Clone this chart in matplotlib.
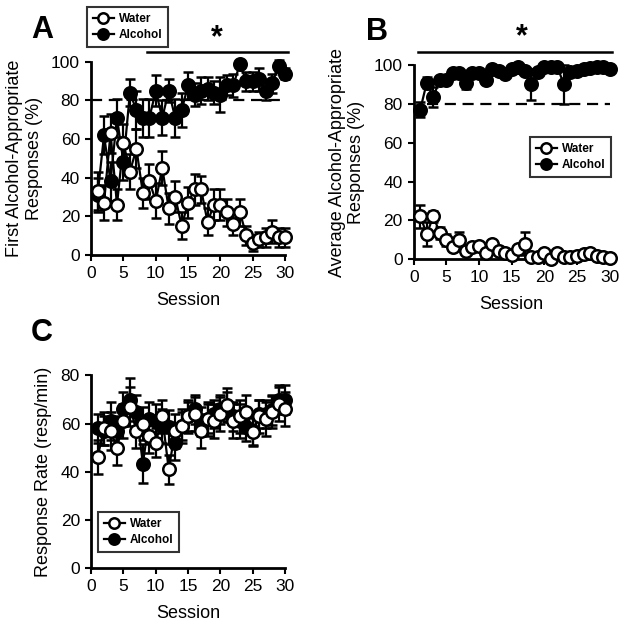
import matplotlib
matplotlib.use('Agg')
import matplotlib.pyplot as plt
import numpy as np
from matplotlib.lines import Line2D

plt.rcParams['font.family'] = ['Liberation Sans', 'DejaVu Sans']

sessions = np.arange(1, 31)

# Panel A: first alcohol-appropriate responses (%)
a_water = [33, 27, 63, 26, 58, 43, 55, 32, 38, 28, 45, 24, 30, 15, 27,
           34, 34, 17, 26, 26, 22, 16, 22, 10, 6, 8, 9, 12, 9, 9]
a_water_err = [10, 9, 10, 8, 10, 9, 10, 8, 9, 9, 9, 8, 8, 7, 8,
               8, 7, 7, 8, 8, 7, 6, 7, 5, 4, 4, 5, 6, 5, 5]
a_alc = [31, 62, 38, 71, 48, 84, 75, 71, 71, 85, 71, 85, 71, 75, 88,
         83, 85, 86, 84, 83, 88, 88, 99, 90, 90, 91, 85, 89, 98, 94]
a_alc_err = [9, 10, 10, 10, 9, 7, 10, 10, 10, 8, 9, 6, 10, 9, 7,
             6, 7, 6, 6, 9, 5, 6, 2, 5, 5, 6, 5, 5, 3, 3]

# Panel B: average alcohol-appropriate responses (%)
b_water = [22, 13, 22, 13.5, 10, 6, 10, 4, 6, 6.7, 3, 7.7, 4, 3, 2,
           5, 8, 1, 1, 3, 0.3, 3, 1, 1, 1.5, 2.4, 3, 1.5, 1, 0.7]
b_water_err = [6, 6, 3, 3, 3, 2, 4, 2, 2, 2, 1.5, 2, 1.5, 1, 1,
               2, 6, 1, 1, 1, 0.5, 1, 0.5, 0.5, 0.5, 1, 1, 0.5, 0.5, 0.5]
b_alc = [77, 91, 83.5, 92.5, 92.5, 96, 96, 91, 96, 96, 92.5, 98, 97, 95.5, 98,
         99, 97, 90, 96.5, 99, 99, 99, 90, 96.5, 97, 98, 98.5, 99, 99, 98]
b_alc_err = [4, 3, 5, 2, 2, 1.5, 1.5, 3.5, 1.5, 1.5, 2, 1, 1, 1.5, 1,
             0.5, 1, 8, 1, 0.5, 0.5, 0.5, 10, 1, 1, 1, 0.5, 0.5, 0.5, 1]

# Panel C: response rate (resp/min)
c_water = [46, 58, 57, 50, 61, 67, 57, 60, 55, 52, 63, 41, 57, 59, 63,
           64, 57, 62, 61, 64, 67.6, 61, 63, 65, 56.5, 63, 62, 65, 68, 66]
c_water_err = [7, 7, 8, 7, 7, 8, 7, 7, 7, 6, 7, 6, 7, 7, 7,
               7, 7, 7, 7, 7, 7, 7, 7, 7, 6, 7, 7, 7, 7, 7]
c_alc = [58, 57, 61, 57, 66, 70, 65, 43.4, 62, 61, 59, 58.6, 52, 59, 63,
         66, 61, 62, 64, 66, 67, 63, 61, 58.6, 57, 64, 64, 65.5, 70, 70]
c_alc_err = [6, 6, 8, 6, 7, 9, 7, 8, 7, 7, 7, 7, 7, 6, 6,
             6, 6, 6, 6, 6, 6, 6, 7, 6, 6, 6, 6, 6, 6, 6]

LW = 1.6
MS = 9


def draw_series(ax, y, err, filled):
    fc = 'black' if filled else 'white'
    ax.errorbar(sessions, y, yerr=err, color='black', lw=LW, elinewidth=LW,
                capsize=3.5, capthick=LW, marker='o', ms=MS, mfc=fc,
                mec='black', mew=1.8, clip_on=False, zorder=3 if filled else 4)


def style_axes(ax, ymax, ystep):
    ax.set_xlim(0, 30)
    ax.set_ylim(0, ymax)
    ax.set_xticks(range(0, 31, 5))
    ax.set_yticks(range(0, ymax + 1, ystep))
    for s in ['top', 'right']:
        ax.spines[s].set_visible(False)
    for s in ['left', 'bottom']:
        ax.spines[s].set_linewidth(2)
    ax.tick_params(direction='out', width=1.5, length=4, labelsize=12.5, pad=4)
    ax.set_xlabel('Session', fontsize=13, labelpad=8)


def add_legend(ax, anchor):
    handles = [
        Line2D([], [], color='black', lw=LW, marker='o', ms=7.5, mfc='white', mec='black', mew=1.8),
        Line2D([], [], color='black', lw=LW, marker='o', ms=7.5, mfc='black', mec='black', mew=1.8),
    ]
    leg = ax.legend(handles, ['Water', 'Alcohol'], loc='upper left', bbox_to_anchor=anchor,
                    bbox_transform=ax.figure.transFigure, frameon=True, fancybox=False,
                    edgecolor='black', handlelength=1.8, handletextpad=0.4,
                    borderpad=0.5, labelspacing=0.35, borderaxespad=0,
                    prop={'weight': 'bold', 'size': 8.5})
    leg.get_frame().set_linewidth(1.5)


fig = plt.figure(figsize=(6.24, 6.32), dpi=100)

# Panel A
axA = fig.add_axes([0.146, 0.597, 0.311, 0.305])
draw_series(axA, a_water, a_water_err, False)
draw_series(axA, a_alc, a_alc_err, True)
axA.plot([0, 30], [80, 80], ls=(0, (5, 3)), color='black', lw=1.6, zorder=2)
style_axes(axA, 100, 20)
axA.set_ylabel('First Alcohol-Appropriate\nResponses (%)', fontsize=13, labelpad=6)
axA.plot([8.6, 30.4], [105, 105], color='black', lw=1.8, clip_on=False)
axA.text(19.5, 104.5, '*', ha='center', va='bottom', fontsize=22, fontweight='bold')
add_legend(axA, (0.139, 0.989))
fig.text(0.067, 0.953, 'A', fontsize=22, fontweight='bold', ha='center', va='center')

# Panel B
axB = fig.add_axes([0.663, 0.590, 0.314, 0.307])
draw_series(axB, b_water, b_water_err, False)
draw_series(axB, b_alc, b_alc_err, True)
axB.plot([2, 30], [80, 80], ls=(0, (5, 3)), color='black', lw=1.6, zorder=2)
style_axes(axB, 100, 20)
axB.set_ylabel('Average Alcohol-Appropriate\nResponses (%)', fontsize=13, labelpad=6)
axB.plot([0.6, 30.3], [107, 107], color='black', lw=1.8, clip_on=False)
axB.text(16.5, 106.5, '*', ha='center', va='bottom', fontsize=22, fontweight='bold')
add_legend(axB, (0.849, 0.783))
fig.text(0.604, 0.950, 'B', fontsize=22, fontweight='bold', ha='center', va='center')

# Panel C
axC = fig.add_axes([0.146, 0.101, 0.311, 0.305])
draw_series(axC, c_water, c_water_err, False)
draw_series(axC, c_alc, c_alc_err, True)
style_axes(axC, 80, 20)
axC.set_ylabel('Response Rate (resp/min)', fontsize=13, labelpad=6)
add_legend(axC, (0.157, 0.190))
fig.text(0.067, 0.473, 'C', fontsize=22, fontweight='bold', ha='center', va='center')

fig.savefig('out.png', dpi=100)
